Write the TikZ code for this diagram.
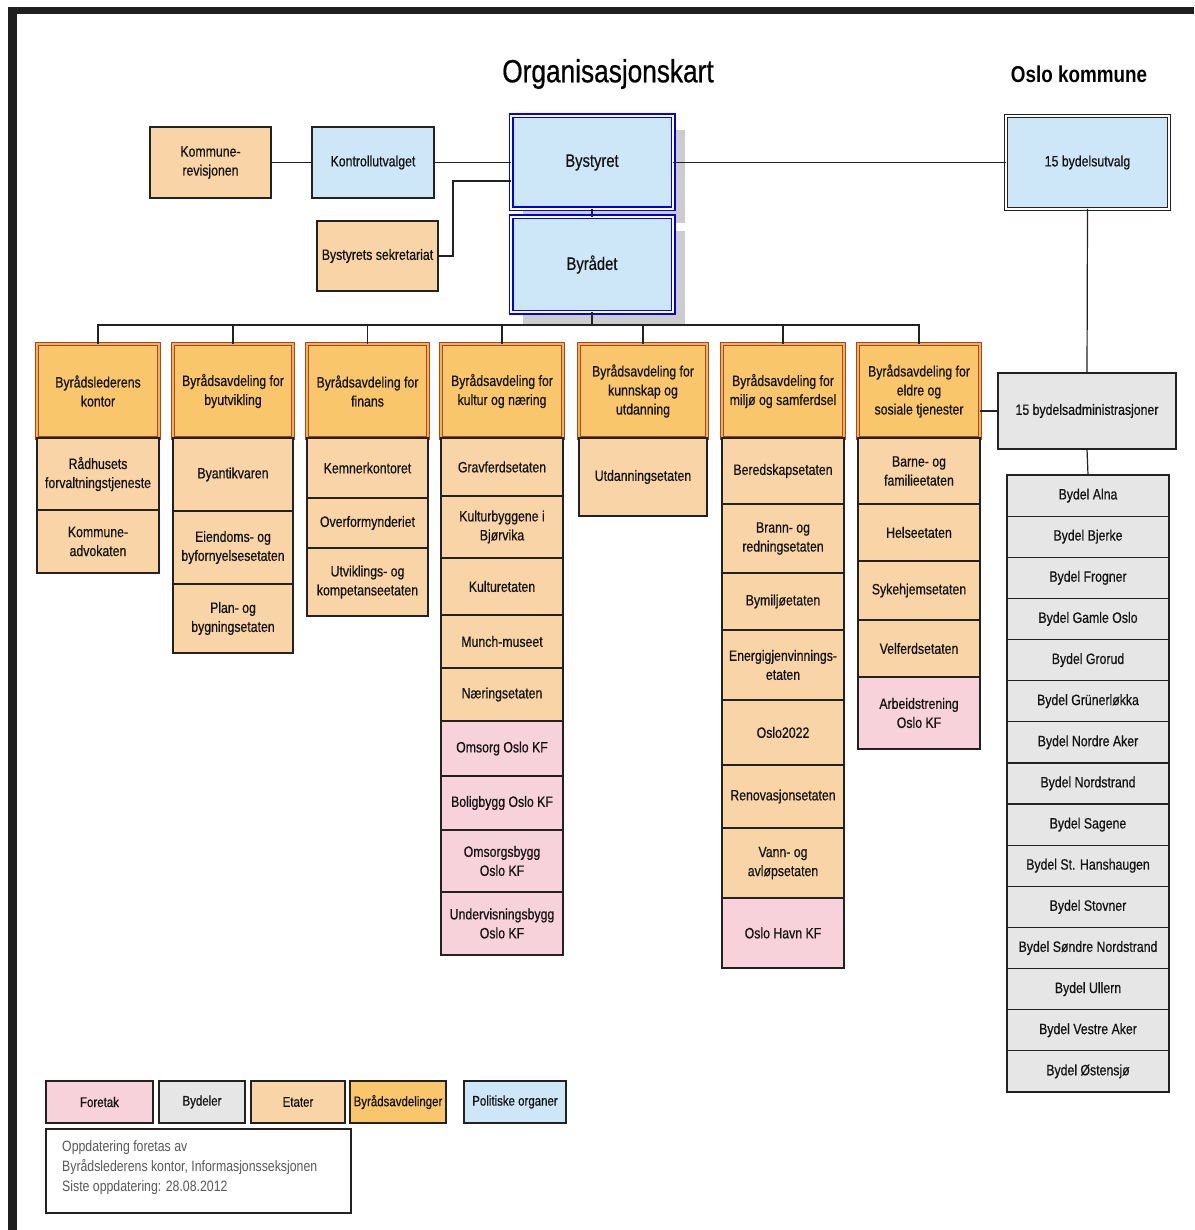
\documentclass[tikz,border=0pt]{standalone}
\usepackage{fontspec}
\setmainfont{Liberation Sans}[FakeStretch=0.82]
\newfontfamily\heavyfont{Liberation Sans}[FakeStretch=0.82,FakeBold=0.6]
\definecolor{cEtat}{HTML}{F9D4A6}
\definecolor{cFor}{HTML}{F8D2DA}
\definecolor{cByd}{HTML}{E6E6E6}
\definecolor{cPol}{HTML}{CDE6F8}
\definecolor{cAvd}{HTML}{F9C66B}
\definecolor{cAvdB}{HTML}{A8452E}
\definecolor{cAvdD}{HTML}{F2B24E}
\definecolor{cLine}{HTML}{222222}
\newcommand\fsbox{\heavyfont\fontsize{15}{19}\selectfont}
\newcommand\bx[7]{\pgfmathsetmacro\bxw{#5-#3}\pgfmathsetmacro\bxh{#6-#4}%
  \node[#1,anchor=north west,minimum width=\bxw pt,minimum height=\bxh pt] (#2) at (#3,#4) {#7};}
\tikzset{
  box/.style={draw=cLine, line width=1.2pt, align=center, inner sep=1pt, outer sep=0pt, font=\fsbox, text=black!92},
  etat/.style={box, fill=cEtat},
  foretak/.style={box, fill=cFor},
  bydel/.style={box, fill=cByd},
  pol/.style={box, fill=cPol},
  avd/.style={box, fill=cAvd, draw=cAvdB, double=cAvdD, double distance=1.8pt, line width=0.9pt},
  avdlg/.style={box, fill=cAvd},
  bigpol/.style={box, fill=cPol, draw=blue!90!black, double=white, double distance=2pt, line width=1.5pt, font=\heavyfont\fontsize{18}{22}\selectfont},
  bigblk/.style={box, fill=cPol, draw=cLine, double=white, double distance=2pt, line width=1.4pt},
  conn/.style={draw=cLine, line width=1.2pt},
  lgd/.style={font=\heavyfont\fontsize{14}{18}\selectfont},
}
\begin{document}
\begin{tikzpicture}[x=1pt,y=-1pt]
\useasboundingbox (0,0) rectangle (1194,1230);
\fill[white] (0,0) rectangle (1194,1230);
% frame bars
\fill[black!88] (8,7) rectangle (1194,14);
\fill[black!88] (8,7) rectangle (17,1230);
% titles
\node[font=\heavyfont\fontsize{32}{36}\selectfont] (title) at (608,74) {Organisasjonskart};
\node[font=\bfseries\fontsize{23}{26}\selectfont] (oslo) at (1079,74) {Oslo kommune};
% shadows
\fill[black!20] (523,130) rectangle (685,223);
\fill[black!20] (523,231) rectangle (685,326);
% top row
\bx{etat}{kr}{150}{127}{271}{198}{Kommune-\\revisjonen}
\bx{pol}{ku}{312}{127}{434}{198}{Kontrollutvalget}
\bx{etat}{sek}{317}{221}{438}{291}{Bystyrets sekretariat}
\bx{bigpol}{bys}{511}{116}{673}{209}{Bystyret}
\bx{bigpol}{byr}{511}{217}{673}{312}{Byrådet}
\bx{bigblk}{bu}{1006}{116}{1169}{209}{15 bydelsutvalg}
\bx{bydel}{ba}{998}{373}{1176}{449}{15 bydelsadministrasjoner}
% headers
\bx{avd}{h1}{37}{344}{159}{438}{Byrådslederens\\kontor}
\bx{avd}{h2}{173}{344}{293}{438}{Byrådsavdeling for\\byutvikling}
\bx{avd}{h3}{307}{344}{428}{438}{Byrådsavdeling for\\finans}
\bx{avd}{h4}{441}{344}{563}{438}{Byrådsavdeling for\\kultur og næring}
\bx{avd}{h5}{579}{344}{707}{438}{Byrådsavdeling for\\kunnskap og\\utdanning}
\bx{avd}{h6}{722}{344}{844}{438}{Byrådsavdeling for\\miljø og samferdsel}
\bx{avd}{h7}{858}{344}{980}{438}{Byrådsavdeling for\\eldre og\\sosiale tjenester}
% column 1
\bx{etat}{c1a}{37}{438}{159}{510}{Rådhusets\\forvaltningstjeneste}
\bx{etat}{c1b}{37}{510}{159}{573}{Kommune-\\advokaten}
% column 2
\bx{etat}{c2a}{173}{438}{293}{511}{Byantikvaren}
\bx{etat}{c2b}{173}{511}{293}{584}{Eiendoms- og\\byfornyelsesetaten}
\bx{etat}{c2c}{173}{584}{293}{653}{Plan- og\\bygningsetaten}
% column 3
\bx{etat}{c3a}{307}{438}{428}{498}{Kemnerkontoret}
\bx{etat}{c3b}{307}{498}{428}{548}{Overformynderiet}
\bx{etat}{c3c}{307}{548}{428}{616}{Utviklings- og\\kompetanseetaten}
% column 4
\bx{etat}{c4a}{441}{438}{563}{496}{Gravferdsetaten}
\bx{etat}{c4b}{441}{496}{563}{558}{Kulturbyggene i\\Bjørvika}
\bx{etat}{c4c}{441}{558}{563}{615}{Kulturetaten}
\bx{etat}{c4d}{441}{615}{563}{668}{Munch-museet}
\bx{etat}{c4e}{441}{668}{563}{721}{Næringsetaten}
\bx{foretak}{c4f}{441}{721}{563}{776}{Omsorg Oslo KF}
\bx{foretak}{c4g}{441}{776}{563}{830}{Boligbygg Oslo KF}
\bx{foretak}{c4h}{441}{830}{563}{892}{Omsorgsbygg\\Oslo KF}
\bx{foretak}{c4i}{441}{892}{563}{955}{Undervisningsbygg\\Oslo KF}
% column 5
\bx{etat}{c5a}{579}{438}{707}{516}{Utdanningsetaten}
% column 6
\bx{etat}{c6a}{722}{438}{844}{504}{Beredskapsetaten}
\bx{etat}{c6b}{722}{504}{844}{573}{Brann- og\\redningsetaten}
\bx{etat}{c6c}{722}{573}{844}{630}{Bymiljøetaten}
\bx{etat}{c6d}{722}{630}{844}{700}{Energigjenvinnings-\\etaten}
\bx{etat}{c6e}{722}{700}{844}{765}{Oslo2022}
\bx{etat}{c6f}{722}{765}{844}{828}{Renovasjonsetaten}
\bx{etat}{c6g}{722}{828}{844}{898}{Vann- og\\avløpsetaten}
\bx{foretak}{c6h}{722}{898}{844}{968}{Oslo Havn KF}
% column 7
\bx{etat}{c7a}{858}{438}{980}{504}{Barne- og\\familieetaten}
\bx{etat}{c7b}{858}{504}{980}{561}{Helseetaten}
\bx{etat}{c7c}{858}{561}{980}{620}{Sykehjemsetaten}
\bx{etat}{c7d}{858}{620}{980}{677}{Velferdsetaten}
\bx{foretak}{c7e}{858}{677}{980}{749}{Arbeidstrening\\Oslo KF}
% bydeler
\foreach \nm [count=\i] in {Alna,Bjerke,Frogner,Gamle Oslo,Grorud,Grünerløkka,Nordre Aker,Nordstrand,Sagene,St. Hanshaugen,Stovner,Søndre Nordstrand,Ullern,Vestre Aker,Østensjø}{
  \pgfmathsetmacro\yy{475+(\i-1)*41.13}
  \node[bydel,anchor=north west,minimum width=162pt,minimum height=41.13pt] (bd\i) at (1007,\yy) {Bydel \nm};
}
% connectors
\draw[conn] (kr.east) -- (ku.west);
\draw[conn] (ku.east) -- (bys.west |- ku.east);
\coordinate (sekj) at (453,181);
\draw[conn] (sek.east) -| (sekj) -- (sekj -| bys.west);
\draw[conn] (bys.south) -- (byr.north);
\draw[conn] (bys.east) -- (bu.west);
\draw[conn] (bu.south) -- (ba.north);
\draw[conn] (ba.south) -- (bd1.north);
\draw[conn] (h7.east |- ba.west) -- (ba.west);
\coordinate (bus) at (592,325);
\draw[conn] (byr.south) -- (bus);
\foreach \h in {h1,h2,h3,h4,h5,h6,h7}{\draw[conn] (\h.north) |- (bus);}
% legend
\bx{foretak,lgd}{lg1}{46}{1081}{153}{1123}{Foretak}
\bx{bydel,lgd}{lg2}{159}{1081}{245}{1123}{Bydeler}
\bx{etat,lgd}{lg3}{251}{1081}{345}{1123}{Etater}
\bx{avdlg,lgd}{lg4}{350}{1081}{446}{1123}{Byrådsavdelinger}
\bx{pol,lgd}{lg5}{464}{1081}{566}{1123}{Politiske organer}
\bx{box,fill=white}{note}{46}{1129}{351}{1213}{}
\node[anchor=north west, align=left, inner sep=0pt, text=black!65, font=\fontsize{15}{20}\selectfont] (notetxt) at (62,1140) {Oppdatering foretas av\\Byrådslederens kontor, Informasjonsseksjonen\\Siste oppdatering: 28.08.2012};
\end{tikzpicture}
\end{document}
